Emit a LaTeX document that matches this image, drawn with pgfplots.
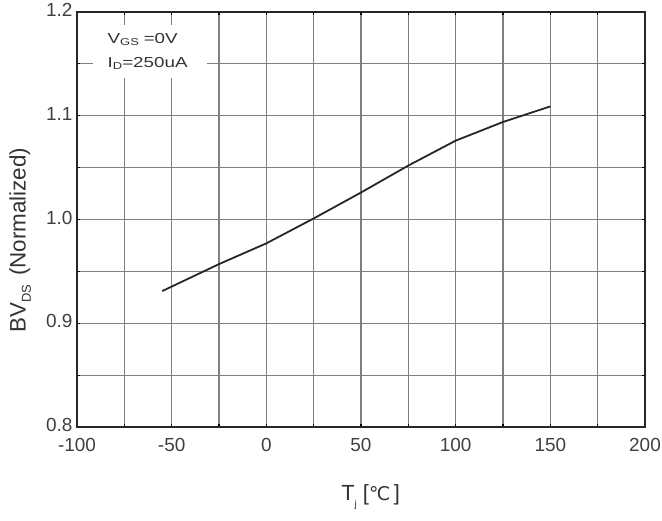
\documentclass[border=0pt]{standalone}
\usepackage{pgfplots}
\pgfplotsset{compat=1.18}
\usepackage{fontspec}
\setmainfont{Liberation Sans}
\newfontfamily\widefont[FakeStretch=1.3]{Liberation Sans}
\newfontfamily\dv{DejaVu Sans}
\begin{document}
\begin{tikzpicture}
\useasboundingbox (-77bp,-94bp) rectangle (585bp,427bp);
\begin{axis}[
  scale only axis, width=568bp, height=415bp,
  xmin=-100, xmax=200, ymin=0.8, ymax=1.2,
  xtick={-100,-50,0,50,100,150,200},
  minor xtick={-75,-25,25,75,125,175},
  ytick={0.8,0.9,1.0,1.1,1.2},
  minor ytick={0.85,0.95,1.05,1.15},
  grid=both,
  major grid style={black!50, line width=1.1bp},
  minor grid style={black!50, line width=1.1bp},
  axis line style={black!85, line width=1.8bp},
  tick style={black, line width=1.2bp},
  major tick length=3bp, minor tick length=3bp, tick align=inside,
  /pgf/number format/assume math mode=true,
  yticklabel style={/pgf/number format/fixed, /pgf/number format/fixed zerofill, /pgf/number format/precision=1},
  xticklabel style={/pgf/number format/fixed, /pgf/number format/precision=0},
  ticklabel style={font=\fontsize{19}{19}\selectfont, text=black!75},
  xticklabel style={yshift=-8bp},
  yticklabel style={xshift=-1bp, yshift=2bp},
  xlabel={T\raisebox{-0.6ex}{\fontsize{10}{10}\selectfont j} [{\dv\fontsize{19}{19}\selectfont ℃}\,]},
  xlabel style={font=\fontsize{22}{22}\selectfont, text=black!80, at={(axis description cs:0.517,-0.169)}, anchor=center},
  ylabel={BV\raisebox{-0.45ex}{\fontsize{13}{13}\selectfont DS}\hspace{0.4em}(Normalized)},
  ylabel style={font=\fontsize{22.5}{22.5}\selectfont, text=black!80, at={(axis description cs:-0.1,0.45)}, anchor=center},
]
\addplot[black!85, line width=1.8bp] coordinates {
  (-55,0.931) (-25,0.957) (0,0.977) (25,1.001) (50,1.026)
  (75,1.052) (100,1.076) (125,1.094) (150,1.109)
};
\node[fill=white, align=left, text width=84bp, inner xsep=15bp, inner ysep=2bp, minimum height=53bp,
      font=\widefont\fontsize{14.5}{24}\selectfont, text=black!80] at (axis cs:-61.6,1.162)
  {V\raisebox{-0.2ex}{\fontsize{10}{10}\selectfont GS} =0V\\I\raisebox{-0.2ex}{\fontsize{10}{10}\selectfont D}=250uA};
\end{axis}
\end{tikzpicture}
\end{document}
